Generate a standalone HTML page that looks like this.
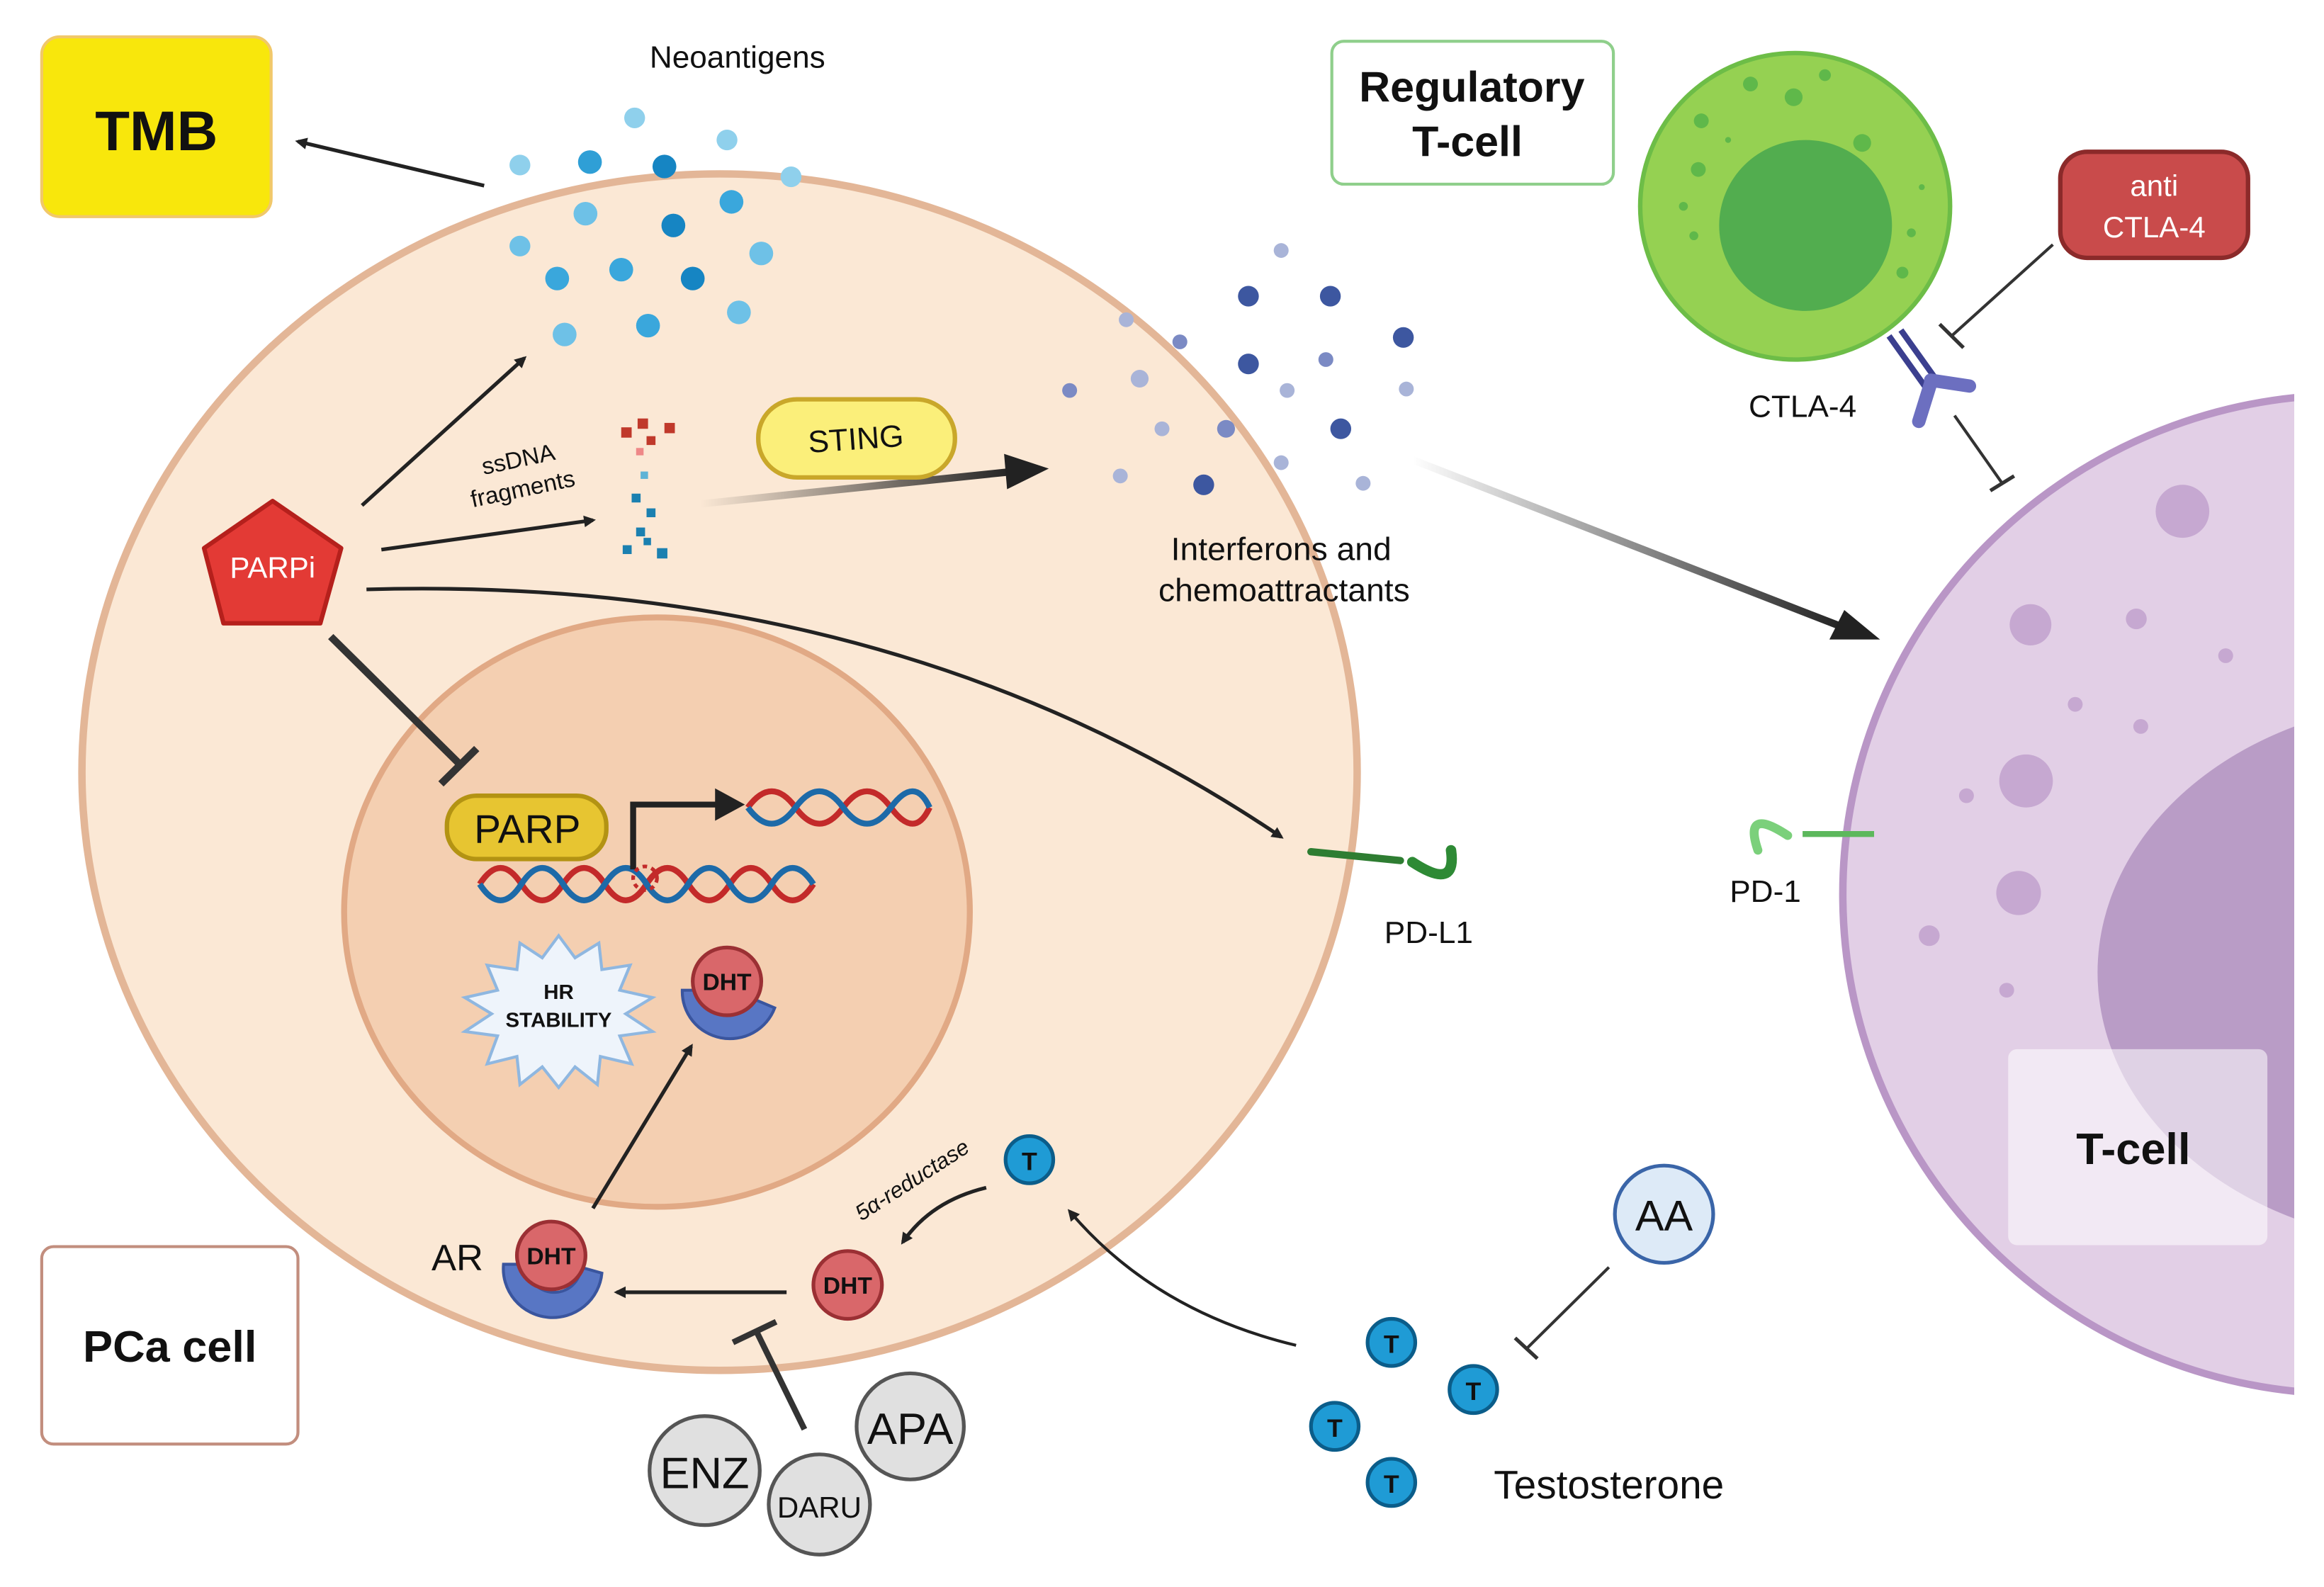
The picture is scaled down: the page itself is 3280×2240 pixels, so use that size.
<!DOCTYPE html>
<html><head><meta charset="utf-8"><style>html,body{margin:0;padding:0;background:#fff}svg{display:block}text{font-family:"Liberation Sans",sans-serif}</style></head>
<body>
<svg width="3280" height="2240" viewBox="0 0 1560 1077" preserveAspectRatio="none" xmlns="http://www.w3.org/2000/svg">
<defs>
<marker id="ah" markerWidth="8" markerHeight="8" refX="6" refY="4" orient="auto" markerUnits="userSpaceOnUse"><path d="M0,0 L8,4 L0,8 z" fill="#222"/></marker>
<marker id="ahb" markerWidth="30" markerHeight="24" refX="24" refY="12" orient="auto" markerUnits="userSpaceOnUse"><path d="M0,0 L30,12 L0,24 z" fill="#222"/></marker>
<clipPath id="cl"><rect x="0" y="0" width="1540" height="1077"/></clipPath>
<linearGradient id="g1" x1="0" x2="1"><stop offset="0" stop-color="#222" stop-opacity="0"/><stop offset="1" stop-color="#222"/></linearGradient>
</defs>
<rect width="1560" height="1077" fill="#fff"/>
<!-- T-cell -->
<g clip-path="url(#cl)">
<ellipse cx="1576" cy="607" rx="339" ry="339" fill="#e2cfe6" stroke="#b996c6" stroke-width="5"/>
<ellipse cx="1640" cy="660" rx="232" ry="185" fill="#b99cc6"/>
</g>
<g fill="#c6a8d1"><circle cx="1465" cy="347" r="18"/><circle cx="1363" cy="424" r="14"/><circle cx="1434" cy="420" r="7"/><circle cx="1494" cy="445" r="5"/><circle cx="1393" cy="478" r="5"/><circle cx="1437" cy="493" r="5"/><circle cx="1360" cy="530" r="18"/><circle cx="1320" cy="540" r="5"/><circle cx="1355" cy="606" r="15"/><circle cx="1295" cy="635" r="7"/><circle cx="1347" cy="672" r="5"/></g>
<rect x="1348" y="712" width="174" height="133" rx="6" fill="#fff" fill-opacity="0.55"/>
<text x="1432" y="790" font-size="30" font-weight="bold" text-anchor="middle" fill="#111">T-cell</text>
<!-- PCa cell -->
<ellipse cx="483" cy="524" rx="428" ry="406" fill="#fbe8d5" stroke="#e3b697" stroke-width="5"/>
<ellipse cx="441" cy="619" rx="210" ry="200" fill="#f4cfb1" stroke="#e1a985" stroke-width="4"/>
<!-- boxes -->
<rect x="28" y="25" width="154" height="122" rx="12" fill="#f8e70c" stroke="#f1c86a" stroke-width="2"/>
<text x="105" y="102" font-size="38" font-weight="bold" text-anchor="middle" fill="#111">TMB</text>
<rect x="894" y="28" width="189" height="97" rx="8" fill="#fff" stroke="#8fcf8b" stroke-width="2"/>
<text x="988" y="69" font-size="29" font-weight="bold" text-anchor="middle" fill="#111">Regulatory</text>
<text x="985" y="106" font-size="29" font-weight="bold" text-anchor="middle" fill="#111">T-cell</text>
<rect x="28" y="846" width="172" height="134" rx="8" fill="#fff" stroke="#c28e7e" stroke-width="2"/>
<text x="114" y="924" font-size="30" font-weight="bold" text-anchor="middle" fill="#111">PCa cell</text>
<rect x="1383" y="103" width="126" height="72" rx="18" fill="#c94b4b" stroke="#8b2a2a" stroke-width="3"/>
<text x="1446" y="133" font-size="20" text-anchor="middle" fill="#fff">anti</text>
<text x="1446" y="161" font-size="20" text-anchor="middle" fill="#fff">CTLA-4</text>
<!-- Treg -->
<circle cx="1205" cy="140" r="104" fill="#95d152" stroke="#6dbd47" stroke-width="3"/>
<circle cx="1212" cy="153" r="58" fill="#52ad4f"/>
<g fill="#5fb84a"><circle cx="1142" cy="82" r="5"/><circle cx="1175" cy="57" r="5"/><circle cx="1204" cy="66" r="6"/><circle cx="1225" cy="51" r="4"/><circle cx="1250" cy="97" r="6"/><circle cx="1140" cy="115" r="5"/><circle cx="1130" cy="140" r="3"/><circle cx="1137" cy="160" r="3"/><circle cx="1277" cy="185" r="4"/><circle cx="1283" cy="158" r="3"/><circle cx="1160" cy="95" r="2"/><circle cx="1290" cy="127" r="2"/></g>
<!-- CTLA-4 -->
<path d="M1268,228 L1292,262 M1276,224 L1300,258" stroke="#3b3f8f" stroke-width="4"/>
<path d="M1296,258 L1322,262" stroke="#6c6fc0" stroke-width="9" stroke-linecap="round"/>
<path d="M1296,260 L1288,286" stroke="#6c6fc0" stroke-width="9" stroke-linecap="round"/>
<text x="1210" y="283" font-size="21" text-anchor="middle" fill="#111">CTLA-4</text>
<line x1="1378" y1="166" x2="1310" y2="228" stroke="#333" stroke-width="2"/><line x1="1302" y1="220" x2="1318" y2="236" stroke="#333" stroke-width="2.5"/>
<line x1="1312" y1="282" x2="1344" y2="328" stroke="#333" stroke-width="2"/><line x1="1336" y1="333" x2="1352" y2="323" stroke="#333" stroke-width="2.5"/>
<!-- Neoantigens -->
<text x="495" y="46" font-size="21" text-anchor="middle" fill="#111">Neoantigens</text>
<g fill="#5bb8e0"><circle cx="426" cy="80" r="7" fill="#8fd0ec"/><circle cx="488" cy="95" r="7" fill="#8fd0ec"/><circle cx="349" cy="112" r="7" fill="#8fd0ec"/><circle cx="396" cy="110" r="8" fill="#2f9fd6"/><circle cx="446" cy="113" r="8" fill="#1685c3"/><circle cx="531" cy="120" r="7" fill="#8fd0ec"/><circle cx="393" cy="145" r="8" fill="#6ec1e7"/><circle cx="491" cy="137" r="8" fill="#3aa7dc"/><circle cx="452" cy="153" r="8" fill="#1685c3"/><circle cx="349" cy="167" r="7" fill="#6ec1e7"/><circle cx="511" cy="172" r="8" fill="#6ec1e7"/><circle cx="374" cy="189" r="8" fill="#3aa7dc"/><circle cx="417" cy="183" r="8" fill="#3aa7dc"/><circle cx="465" cy="189" r="8" fill="#1685c3"/><circle cx="379" cy="227" r="8" fill="#6ec1e7"/><circle cx="435" cy="221" r="8" fill="#3aa7dc"/><circle cx="496" cy="212" r="8" fill="#6ec1e7"/></g>
<line x1="325" y1="126" x2="200" y2="96" stroke="#222" stroke-width="2.5" marker-end="url(#ah)"/>
<!-- interferons -->
<g fill="#3d57a0"><circle cx="860" cy="170" r="5" fill="#a9b4d8"/><circle cx="838" cy="201" r="7"/><circle cx="893" cy="201" r="7"/><circle cx="756" cy="217" r="5" fill="#a9b4d8"/><circle cx="792" cy="232" r="5" fill="#7b8ac4"/><circle cx="942" cy="229" r="7"/><circle cx="838" cy="247" r="7"/><circle cx="890" cy="244" r="5" fill="#7b8ac4"/><circle cx="718" cy="265" r="5" fill="#7b8ac4"/><circle cx="765" cy="257" r="6" fill="#a9b4d8"/><circle cx="864" cy="265" r="5" fill="#a9b4d8"/><circle cx="944" cy="264" r="5" fill="#a9b4d8"/><circle cx="780" cy="291" r="5" fill="#a9b4d8"/><circle cx="823" cy="291" r="6" fill="#7b8ac4"/><circle cx="900" cy="291" r="7"/><circle cx="752" cy="323" r="5" fill="#a9b4d8"/><circle cx="808" cy="329" r="7"/><circle cx="860" cy="314" r="5" fill="#a9b4d8"/><circle cx="915" cy="328" r="5" fill="#a9b4d8"/></g>
<text x="860" y="380" font-size="22" text-anchor="middle" fill="#111">Interferons and</text>
<text x="862" y="408" font-size="22" text-anchor="middle" fill="#111">chemoattractants</text>
<path d="M948,312 L1238,426" stroke="url(#g1)" stroke-width="5"/>
<path d="M1262,434 L1228,434 L1238,414 z" fill="#222"/>
<!-- PARPi -->
<path d="M183,340 L229,372 L215,423 L150,423 L137,372 z" fill="#e33a35" stroke="#b5201c" stroke-width="3" stroke-linejoin="round"/>
<text x="183" y="392" font-size="20" text-anchor="middle" fill="#fff">PARPi</text>
<line x1="243" y1="343" x2="352" y2="243" stroke="#222" stroke-width="2.5" marker-end="url(#ah)"/>
<line x1="256" y1="373" x2="398" y2="353" stroke="#222" stroke-width="2.5" marker-end="url(#ah)"/>
<text x="349" y="317" font-size="16" text-anchor="middle" fill="#111" transform="rotate(-12 349 317)">ssDNA</text>
<text x="352" y="337" font-size="16" text-anchor="middle" fill="#111" transform="rotate(-12 352 337)">fragments</text>
<g fill="#c0392b"><rect x="417" y="290" width="7" height="7"/><rect x="428" y="284" width="7" height="7"/><rect x="446" y="287" width="7" height="7"/><rect x="434" y="296" width="6" height="6"/><rect x="427" y="304" width="5" height="5" fill="#e88"/></g>
<g fill="#1b80b0"><rect x="430" y="320" width="5" height="5" fill="#5fb3d6"/><rect x="424" y="335" width="6" height="6"/><rect x="434" y="345" width="6" height="6"/><rect x="427" y="358" width="6" height="6"/><rect x="418" y="370" width="6" height="6"/><rect x="441" y="372" width="7" height="7"/><rect x="432" y="365" width="5" height="5"/></g>
<path d="M470,342 L680,320" stroke="url(#g1)" stroke-width="5"/>
<path d="M704,318 L674,308 L676,332 z" fill="#222"/>
<rect x="509" y="271" width="132" height="53" rx="26" fill="#fbef7a" stroke="#c9a72a" stroke-width="3"/>
<text x="575" y="305" font-size="21" text-anchor="middle" fill="#111" transform="rotate(-4 575 305)">STING</text>
<path d="M246,400 Q600,390 860,568" fill="none" stroke="#222" stroke-width="2.5" marker-end="url(#ah)"/>
<!-- inhibition to PARP -->
<line x1="222" y1="432" x2="310" y2="520" stroke="#333" stroke-width="5"/>
<line x1="296" y1="532" x2="320" y2="508" stroke="#333" stroke-width="5"/>
<rect x="300" y="540" width="107" height="43" rx="20" fill="#e7c531" stroke="#b39313" stroke-width="3"/>
<text x="354" y="572" font-size="27" text-anchor="middle" fill="#111">PARP</text>
<!-- DNA -->
<path d="M322,600 q14,-22 28,0 t28,0 t28,0 t28,0 t28,0 t28,0 t28,0 t28,0" fill="none" stroke="#c32a2a" stroke-width="4"/>
<path d="M322,600 q14,22 28,0 t28,0 t28,0 t28,0 t28,0 t28,0 t28,0 t28,0" fill="none" stroke="#1d6aa8" stroke-width="4"/>
<path d="M502,548 q16,-22 32,0 t32,0 t32,0 t26,0" fill="none" stroke="#c32a2a" stroke-width="4"/>
<path d="M502,548 q16,22 32,0 t32,0 t32,0 t26,0" fill="none" stroke="#1d6aa8" stroke-width="4"/>
<path d="M425,590 L425,546 L482,546" fill="none" stroke="#222" stroke-width="4"/><path d="M500,546 L480,535 L480,557 z" fill="#222"/>
<circle cx="433" cy="596" r="8" fill="none" stroke="#c32a2a" stroke-width="2.5" stroke-dasharray="3,3"/>
<!-- HR stability starburst -->
<polygon points="375,635 386,650 402,640 404,658 423,655 416,672 438,677 420,688 438,700 416,703 424,722 403,717 401,736 386,724 375,738 364,724 349,736 347,717 327,722 334,703 312,700 330,688 312,677 334,672 327,655 347,658 349,640 364,650" fill="#eef4fb" stroke="#8fb7e0" stroke-width="2"/>
<text x="375" y="678" font-size="14" font-weight="bold" text-anchor="middle" fill="#111">HR</text>
<text x="375" y="697" font-size="14" font-weight="bold" text-anchor="middle" fill="#111">STABILITY</text>
<!-- DHT on AR nucleus -->
<path d="M458,672 a32,32 0 0 0 62,12 l-14,-6 a18,18 0 0 1 -34,-6 z" fill="#5876c4" stroke="#3a559e" stroke-width="2"/>
<circle cx="488" cy="666" r="23" fill="#d9676a" stroke="#9b3034" stroke-width="2.5"/>
<text x="488" y="672" font-size="16" font-weight="bold" text-anchor="middle" fill="#111">DHT</text>
<line x1="398" y1="820" x2="464" y2="710" stroke="#222" stroke-width="2.5" marker-end="url(#ah)"/>
<!-- AR DHT -->
<text x="307" y="862" font-size="25" text-anchor="middle" fill="#111">AR</text>
<path d="M338,858 a32,32 0 0 0 66,6 l-14,-4 a18,18 0 0 1 -36,-2 z" fill="#5876c4" stroke="#3a559e" stroke-width="2"/>
<circle cx="370" cy="852" r="23" fill="#d9676a" stroke="#9b3034" stroke-width="2.5"/>
<text x="370" y="858" font-size="16" font-weight="bold" text-anchor="middle" fill="#111">DHT</text>
<circle cx="569" cy="872" r="23" fill="#d9676a" stroke="#9b3034" stroke-width="2.5"/>
<text x="569" y="878" font-size="16" font-weight="bold" text-anchor="middle" fill="#111">DHT</text>
<line x1="528" y1="877" x2="414" y2="877" stroke="#222" stroke-width="2.5" marker-end="url(#ah)"/>
<circle cx="691" cy="787" r="16" fill="#1f9bd5" stroke="#0b5d8a" stroke-width="2.5"/>
<text x="691" y="794" font-size="17" font-weight="bold" text-anchor="middle" fill="#111">T</text>
<path d="M662,806 Q625,815 606,843" fill="none" stroke="#222" stroke-width="2.5" marker-end="url(#ah)"/>
<text x="615" y="805" font-size="15" font-style="italic" text-anchor="middle" fill="#111" transform="rotate(-33 615 805)">5α-reductase</text>
<!-- inhibition from drugs -->
<line x1="540" y1="970" x2="508" y2="904" stroke="#333" stroke-width="4"/>
<line x1="492" y1="911" x2="521" y2="897" stroke="#333" stroke-width="4"/>
<g stroke="#555" stroke-width="2.5" fill="#e0e0e0">
<circle cx="611" cy="968" r="36"/><circle cx="473" cy="998" r="37"/><circle cx="550" cy="1021" r="34"/></g>
<text x="611" y="980" font-size="30" text-anchor="middle" fill="#111">APA</text>
<text x="473" y="1010" font-size="30" text-anchor="middle" fill="#111">ENZ</text>
<text x="550" y="1030" font-size="20" text-anchor="middle" fill="#111">DARU</text>
<!-- testosterone -->
<path d="M870,913 Q775,890 718,822" fill="none" stroke="#222" stroke-width="2" marker-end="url(#ah)"/>
<g fill="#1f9bd5" stroke="#0b5d8a" stroke-width="2.5"><circle cx="934" cy="911" r="16"/><circle cx="989" cy="943" r="16"/><circle cx="896" cy="968" r="16"/><circle cx="934" cy="1006" r="16"/></g>
<g font-size="17" font-weight="bold" text-anchor="middle" fill="#111"><text x="934" y="918">T</text><text x="989" y="950">T</text><text x="896" y="975">T</text><text x="934" y="1013">T</text></g>
<text x="1080" y="1017" font-size="27" text-anchor="middle" fill="#111">Testosterone</text>
<circle cx="1117" cy="824" r="33" fill="#ddeaf7" stroke="#3a65a8" stroke-width="2.5"/>
<text x="1117" y="835" font-size="29" text-anchor="middle" fill="#111">AA</text>
<line x1="1080" y1="860" x2="1025" y2="915" stroke="#333" stroke-width="2"/><line x1="1017" y1="908" x2="1032" y2="922" stroke="#333" stroke-width="2.5"/>
<!-- PD-L1 -->
<path d="M880,578 L940,584" stroke="#2e7d32" stroke-width="5" stroke-linecap="round"/>
<path d="M948,585 q30,20 26,-8" fill="none" stroke="#2e8a35" stroke-width="7" stroke-linecap="round"/>
<text x="959" y="640" font-size="21" text-anchor="middle" fill="#111">PD-L1</text>
<!-- PD-1 -->
<path d="M1210,566 L1258,566" stroke="#5cb85c" stroke-width="4"/>
<path d="M1200,567 q-30,-20 -20,10" fill="none" stroke="#7bd07b" stroke-width="6" stroke-linecap="round"/>
<text x="1185" y="612" font-size="21" text-anchor="middle" fill="#111">PD-1</text>
</svg>
</body></html>
